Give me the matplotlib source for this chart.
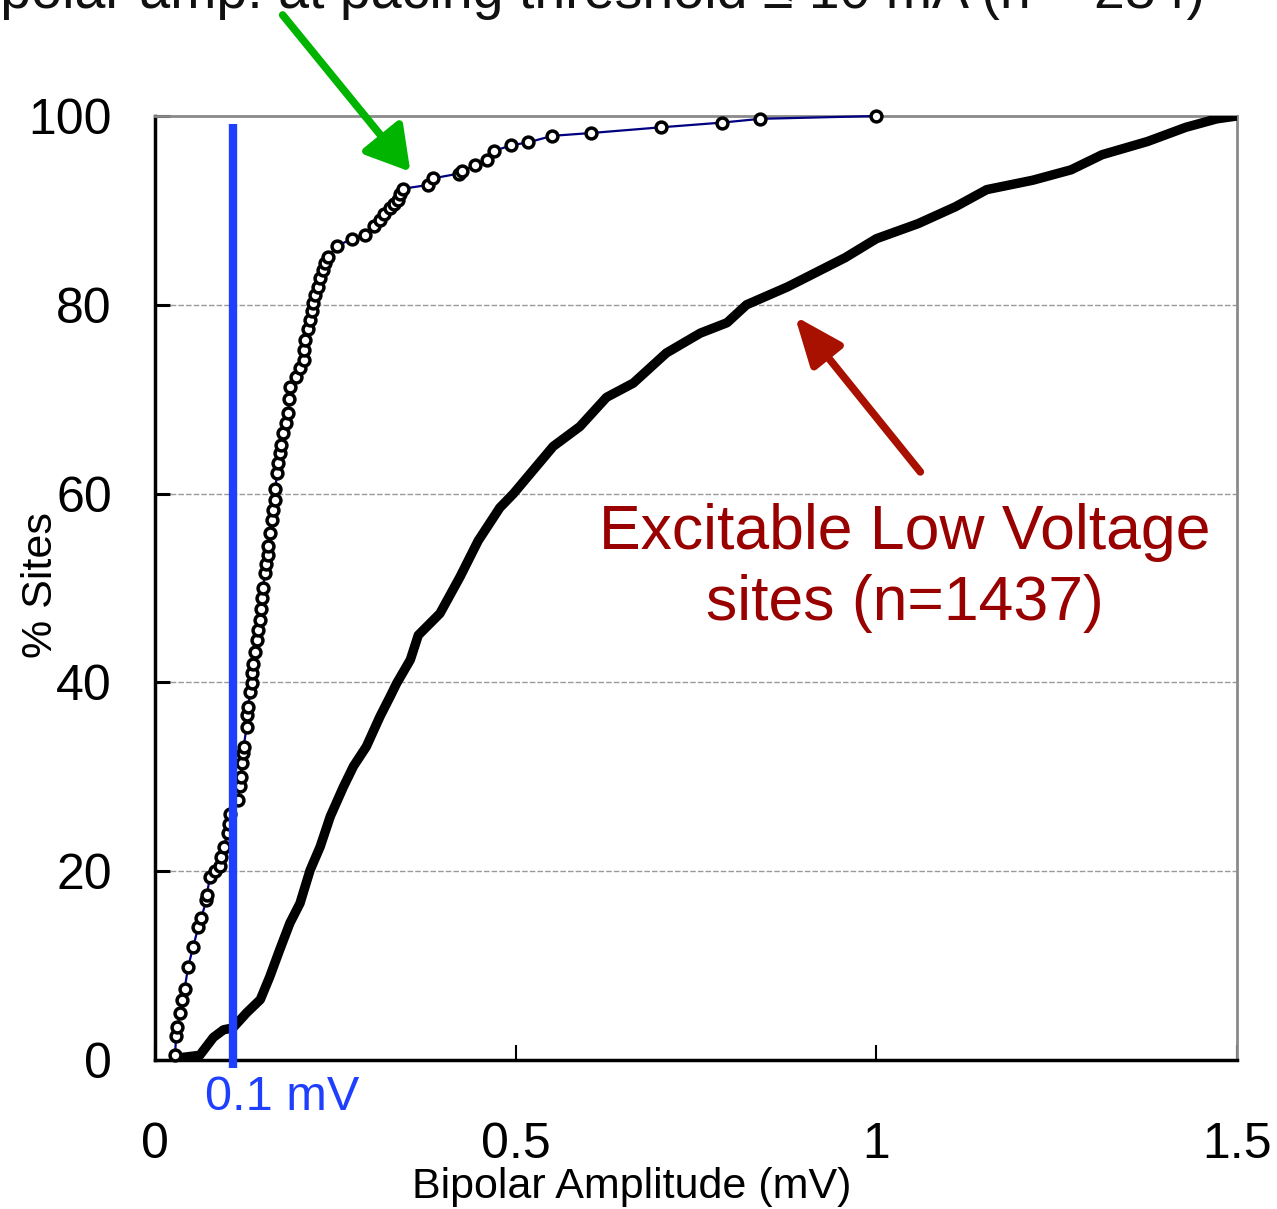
import matplotlib
matplotlib.use("Agg")
import matplotlib.pyplot as plt
from matplotlib import font_manager

names = {f.name for f in font_manager.fontManager.ttflist}
NARROW = "Liberation Sans Narrow" if "Liberation Sans Narrow" in names else "Liberation Sans"

# ---- data ----
# Sites at pacing threshold (open circles, n=284): amplitude (mV), cumulative % sites
circ_x = [0.028, 0.029, 0.031, 0.035, 0.037, 0.041, 0.046, 0.053, 0.060, 0.064,
          0.071, 0.072, 0.076, 0.083, 0.090, 0.092, 0.095, 0.101, 0.103, 0.104,
          0.115, 0.118, 0.119, 0.120, 0.122, 0.123, 0.127, 0.128, 0.129, 0.132,
          0.134, 0.135, 0.136, 0.139, 0.141, 0.143, 0.146, 0.147, 0.148, 0.150,
          0.152, 0.154, 0.156, 0.157, 0.159, 0.162, 0.164, 0.166, 0.167, 0.169,
          0.171, 0.173, 0.175, 0.178, 0.181, 0.185, 0.186, 0.187, 0.196, 0.201,
          0.206, 0.207, 0.208, 0.212, 0.215, 0.217, 0.219, 0.222, 0.226, 0.229,
          0.233, 0.236, 0.240, 0.252, 0.273, 0.291, 0.303, 0.312, 0.318, 0.326,
          0.331, 0.337, 0.340, 0.344, 0.379, 0.386, 0.421, 0.426, 0.444, 0.460,
          0.470, 0.494, 0.517, 0.551, 0.605, 0.701, 0.786, 0.839, 1.000]
circ_y = [0.5, 2.5, 3.5, 5.0, 6.4, 7.5, 9.9, 12.0, 14.1, 15.0,
          16.9, 17.5, 19.4, 20.0, 20.5, 21.5, 22.6, 24.0, 25.0, 26.1,
          27.5, 29.0, 30.0, 31.5, 32.5, 33.2, 35.3, 36.5, 37.4, 39.0,
          39.9, 41.0, 42.0, 43.2, 44.5, 45.5, 46.6, 47.8, 48.9, 50.0,
          51.6, 52.5, 53.5, 54.4, 55.8, 57.2, 58.3, 59.3, 60.5, 62.2,
          63.2, 64.3, 65.2, 66.4, 67.5, 68.5, 70.0, 71.3, 72.4, 73.3,
          74.2, 75.2, 76.3, 77.4, 78.4, 79.3, 80.2, 81.0, 81.9, 82.8,
          83.7, 84.4, 85.1, 86.2, 87.0, 87.4, 88.3, 89.0, 89.6, 90.3,
          90.7, 91.1, 91.7, 92.3, 92.7, 93.4, 93.9, 94.2, 94.8, 95.3,
          96.3, 96.9, 97.2, 97.9, 98.2, 98.8, 99.3, 99.7, 100.0]

# Excitable low voltage sites (n=1437)
elv_x = [0.030, 0.062, 0.081, 0.095, 0.108, 0.127, 0.146, 0.159, 0.173, 0.187,
         0.201, 0.215, 0.229, 0.243, 0.261, 0.275, 0.293, 0.312, 0.326, 0.335,
         0.354, 0.365, 0.395, 0.423, 0.448, 0.478, 0.497, 0.552, 0.589, 0.626,
         0.663, 0.709, 0.756, 0.793, 0.820, 0.877, 0.957, 1.000, 1.058, 1.110,
         1.153, 1.217, 1.270, 1.313, 1.376, 1.429, 1.472, 1.500]
elv_y = [0.2, 0.5, 2.4, 3.2, 3.4, 5.0, 6.4, 8.8, 11.7, 14.5,
         16.6, 20.1, 22.6, 25.8, 28.9, 31.1, 33.2, 36.4, 38.5, 39.9,
         42.4, 45.0, 47.3, 51.2, 55.0, 58.5, 60.0, 65.0, 67.1, 70.2,
         71.7, 74.9, 77.0, 78.1, 80.0, 81.9, 85.0, 87.0, 88.6, 90.4,
         92.2, 93.2, 94.3, 95.9, 97.3, 98.8, 99.7, 100.0]

threshold_line_x = 0.108   # where the 0.1 mV marker line is drawn in the picture
x_ticks = [0, 0.5, 1, 1.5]
x_ticklabels = ["0", "0.5", "1", "1.5"]
y_ticks = [0, 20, 40, 60, 80, 100]
y_ticklabels = ["0", "20", "40", "60", "80", "100"]

# ---- figure ----
fig = plt.figure(figsize=(12.77, 12.09), dpi=100)
ax = fig.add_axes([155/1277, 1 - 1060/1209, (1237-155)/1277, (1060-116)/1209])
ax.set_xlim(0, 1.5)
ax.set_ylim(0, 100)

for g in [20, 40, 60, 80]:
    ax.axhline(g, color="#9a9a9a", lw=1.0, ls=(0, (4, 1.5)), zorder=0)

ax.plot(elv_x, elv_y, color="black", lw=6.8, solid_joinstyle="round", solid_capstyle="round", zorder=3)
ax.plot(circ_x, circ_y, color="#000080", lw=1.6, marker="o", ms=7.8, mfc="white",
        mec="black", mew=2.5, zorder=4, clip_on=False)

ax.plot([threshold_line_x, threshold_line_x], [-0.9, 99.1], color="#1f3fff", lw=6, zorder=5,
        clip_on=False, solid_capstyle="butt")

for s in ["left", "bottom"]:
    ax.spines[s].set_color("black")
    ax.spines[s].set_linewidth(2.5)
for s in ["top", "right"]:
    ax.spines[s].set_color("#8a8a8a")
    ax.spines[s].set_linewidth(2.0)

ax.set_xticks(x_ticks)
ax.set_xticklabels(x_ticklabels, fontfamily=NARROW, fontsize=36)
ax.set_yticks(y_ticks)
ax.set_yticklabels(y_ticklabels, fontfamily=NARROW, fontsize=36)
ax.tick_params(axis="x", direction="in", length=11, width=1.5, pad=45, colors="black")
ax.tick_params(axis="y", direction="in", length=11, width=2.2, pad=31, colors="black")

ax.set_xlabel("Bipolar Amplitude (mV)", fontfamily=NARROW, fontsize=31)
ax.xaxis.set_label_coords(0.441, -0.113)
ax.set_ylabel("% Sites", fontfamily=NARROW, fontsize=31)
ax.yaxis.set_label_coords(-0.087, 0.503)

ax.text(0.069, -0.016, "0.1 mV", transform=ax.get_xaxis_transform(), color="#1f3fff",
        fontfamily=NARROW, fontsize=35, ha="left", va="top")

ax.text(1.04, 54.1, "Excitable Low Voltage", color="#990000", fontfamily="Liberation Sans",
        fontsize=45, ha="center", va="baseline")
ax.text(1.04, 46.6, "sites (n=1437)", color="#990000", fontfamily="Liberation Sans",
        fontsize=45, ha="center", va="baseline")

ax.annotate("", xy=(0.887, 78.8), xytext=(1.061, 62.3), xycoords="data",
            arrowprops=dict(arrowstyle="-|>,head_length=1.35,head_width=0.55", lw=5.5,
                            color="#a81000", mutation_scale=22, shrinkA=0, shrinkB=0))
ax.annotate("", xy=(0.354, 94.1), xytext=(0.177, 110.7), xycoords="data",
            annotation_clip=False,
            arrowprops=dict(arrowstyle="-|>,head_length=1.05,head_width=0.62", lw=5.5,
                            color="#00b400", mutation_scale=25, shrinkA=0, shrinkB=0))

fig.text(1205/1277, 1 - 8/1209, "Sites with bipolar amp. at pacing threshold \u2264 10 mA (n = 284)",
         fontfamily="Liberation Sans", fontsize=40, ha="right", va="baseline", color="#111111")

fig.savefig("out.png", dpi=100)
